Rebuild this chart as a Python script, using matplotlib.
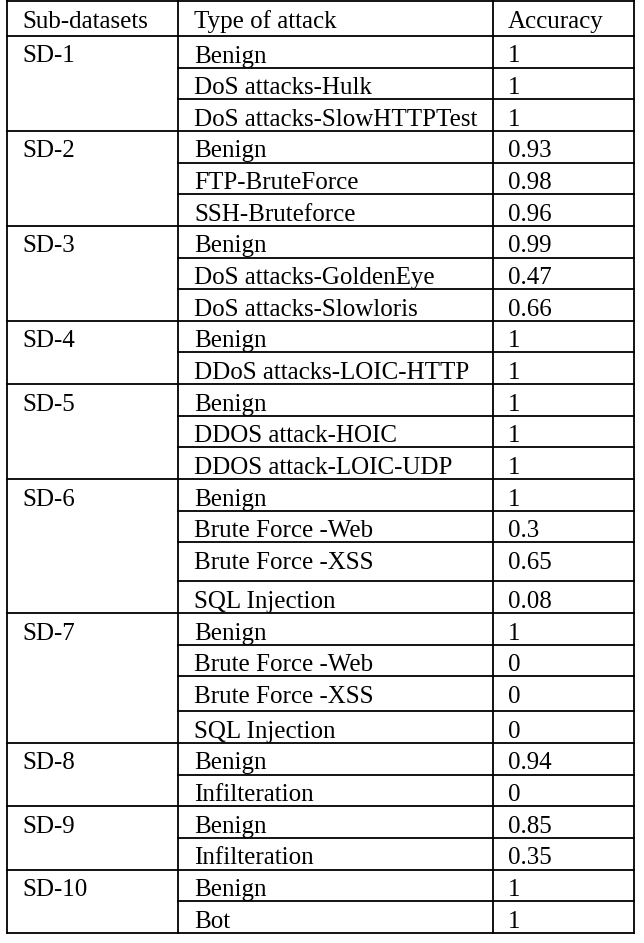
import matplotlib.pyplot as plt

plt.rcParams['font.family'] = ['Liberation Serif', 'DejaVu Serif']

headers = ['Sub-datasets', 'Type of attack', 'Accuracy']
subsets = ['SD-1', 'SD-2', 'SD-3', 'SD-4', 'SD-5', 'SD-6', 'SD-7', 'SD-8', 'SD-9', 'SD-10']
group_sizes = [3, 3, 3, 2, 3, 4, 4, 2, 2, 2]
attacks = [
    'Benign', 'DoS attacks-Hulk', 'DoS attacks-SlowHTTPTest',
    'Benign', 'FTP-BruteForce', 'SSH-Bruteforce',
    'Benign', 'DoS attacks-GoldenEye', 'DoS attacks-Slowloris',
    'Benign', 'DDoS attacks-LOIC-HTTP',
    'Benign', 'DDOS attack-HOIC', 'DDOS attack-LOIC-UDP',
    'Benign', 'Brute Force -Web', 'Brute Force -XSS', 'SQL Injection',
    'Benign', 'Brute Force -Web', 'Brute Force -XSS', 'SQL Injection',
    'Benign', 'Infilteration',
    'Benign', 'Infilteration',
    'Benign', 'Bot',
]
accuracy = [1, 1, 1,
            0.93, 0.98, 0.96,
            0.99, 0.47, 0.66,
            1, 1,
            1, 1, 1,
            1, 0.3, 0.65, 0.08,
            1, 0, 0, 0,
            0.94, 0,
            0.85, 0.35,
            1, 1]

# layout (pixels)
W, H = 644, 943
col_x = [7, 178, 493, 634]
text_x = [22, 194, 508]
header_h = 36
base_h = 31.65
tall = {16: 39, 20: 35}
fs = 18
lw = 1.3

fig = plt.figure(figsize=(W / 100, H / 100), dpi=100)
ax = fig.add_axes([0, 0, 1, 1])
ax.set_xlim(0, W)
ax.set_ylim(H, 0)
ax.axis('off')

# row tops
tops = []
y = header_h
for i in range(len(attacks)):
    tops.append(y)
    y += tall.get(i, base_h)
bottom = y

# header
ax.plot([col_x[0], col_x[-1]], [1, 1], color='black', lw=lw)
for tx, h in zip(text_x, headers):
    ax.text(tx, 28, h, fontsize=fs, va='baseline', ha='left')

# group starts
starts = []
k = 0
for n in group_sizes:
    starts.append(k)
    k += n

for i, (att, acc) in enumerate(zip(attacks, accuracy)):
    t = tops[i]
    if i in starts:
        ax.plot([col_x[0], col_x[-1]], [t, t], color='black', lw=lw)
        ax.text(text_x[0], t + 26.5, subsets[starts.index(i)], fontsize=fs, va='baseline')
    else:
        ax.plot([col_x[1], col_x[-1]], [t, t], color='black', lw=lw)
    ax.text(text_x[1], t + 26.5, att, fontsize=fs, va='baseline')
    ax.text(text_x[2], t + 26.5, format(acc, 'g'), fontsize=fs, va='baseline')

ax.plot([col_x[0], col_x[-1]], [bottom, bottom], color='black', lw=lw)
for cx in col_x:
    ax.plot([cx, cx], [0, bottom], color='black', lw=lw)

fig.savefig('out.png', dpi=100)
